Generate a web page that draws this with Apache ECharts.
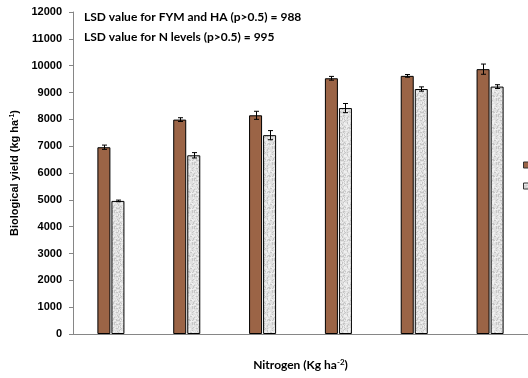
<!DOCTYPE html>
<html><head><meta charset="utf-8">
<script src="https://cdn.jsdelivr.net/npm/echarts@6/dist/echarts.min.js"></script>
<style>html,body{margin:0;padding:0;background:#fff}#c{width:528px;height:378px}</style>
</head><body><div id="c"></div>
<script>
const categories = ['0', '60', '90', '120', '150', '180'];
const fymValues = [6960, 7990, 8150, 9530, 9620, 9870];
const fymErrors = [80, 70, 150, 70, 50, 190];
const haValues = [4960, 6660, 7410, 8420, 9130, 9220];
const haErrors = [30, 100, 170, 170, 80, 70];
const yTicks = [0, 12000, 1000];
const seriesNames = ['FYM', 'HA'];

// speckled grey texture (deterministic)
const pc = document.createElement('canvas');
pc.width = 16; pc.height = 16;
const pctx = pc.getContext('2d');
pctx.fillStyle = '#e0e0e0'; pctx.fillRect(0,0,16,16);
let s = 7;
for (let i = 0; i < 16; i++) for (let j = 0; j < 16; j++) {
  s = (s * 1103515245 + 12345) & 0x7fffffff;
  const v = s % 100;
  if (v < 20) { pctx.fillStyle = '#c6c6c6'; pctx.fillRect(i,j,1,1); }
  else if (v < 45) { pctx.fillStyle = '#efefef'; pctx.fillRect(i,j,1,1); }
}

const BW = 13, GAP = 1;
function errRender(vals, errs, sign) {
  return function (params, api) {
    const i = api.value(0);
    const v = vals[i], e = errs[i];
    const top = api.coord([i, v + e]);
    const bot = api.coord([i, v - e]);
    const x = Math.round(top[0] + sign * (BW / 2 + GAP / 2)) + 0.5;
    const st = { stroke: '#000', lineWidth: 1 };
    return { type: 'group', children: [
      { type: 'line', shape: { x1: x, y1: top[1], x2: x, y2: bot[1] }, style: st },
      { type: 'line', shape: { x1: x - 2.5, y1: top[1], x2: x + 2.5, y2: top[1] }, style: st },
      { type: 'line', shape: { x1: x - 2.5, y1: bot[1], x2: x + 2.5, y2: bot[1] }, style: st }
    ]};
  };
}

const chart = echarts.init(document.getElementById('c'));
chart.setOption({
  animation: false,
  backgroundColor: '#fff',
  grid: { left: 73, top: 12, bottom: 44, width: 458 },
  legend: {
    orient: 'vertical', left: 518, top: 155, itemWidth: 6, itemHeight: 6, itemGap: 11,
    data: seriesNames, textStyle: { fontSize: 10, color: '#000' }, icon: 'rect',
    itemStyle: { borderColor: '#333', borderWidth: 1 }
  },
  graphic: [
    { type: 'text', left: 84, top: 11, style: { text: 'LSD value for FYM and HA (p>0.5) = 988', font: 'bold 12px Lato', fill: '#000' } },
    { type: 'text', left: 84, top: 31, style: { text: 'LSD value for N levels (p>0.5) = 995', font: 'bold 12px Lato', fill: '#000' } }
  ],
  xAxis: {
    type: 'category', data: categories,
    axisLine: { lineStyle: { color: '#868686', width: 1 } },
    axisTick: { alignWithLabel: true, length: 4, lineStyle: { color: '#868686' } },
    axisLabel: { show: false },
    name: '{b|Nitrogen (Kg ha}{sup|-2}{b|)}', nameLocation: 'middle', nameGap: 24,
    nameTextStyle: { rich: {
      b: { fontFamily: 'Lato', fontWeight: 'bold', fontSize: 12, color: '#000' },
      sup: { fontFamily: 'Lato', fontWeight: 'bold', fontSize: 8, color: '#000', verticalAlign: 'top', padding: [0,0,6,0] }
    } }
  },
  yAxis: {
    type: 'value', min: yTicks[0], max: yTicks[1], interval: yTicks[2],
    axisLine: { show: true, lineStyle: { color: '#868686', width: 1 } },
    axisTick: { show: true, length: 4, lineStyle: { color: '#868686' } },
    splitLine: { show: false },
    axisLabel: { fontFamily: 'Liberation Sans', fontWeight: 'bold', fontSize: 11, color: '#000', margin: 11,
      formatter: v => String(v) },
    name: '{b|Biological yield (kg ha}{sup|-1}{b|)}', nameLocation: 'middle', nameGap: 50, nameRotate: 90,
    nameTextStyle: { rich: {
      b: { fontFamily: 'Liberation Sans', fontWeight: 'bold', fontSize: 11, color: '#000' },
      sup: { fontFamily: 'Liberation Sans', fontWeight: 'bold', fontSize: 7, color: '#000', verticalAlign: 'top', padding: [0,0,5,0] }
    } }
  },
  series: [
    { name: seriesNames[0], type: 'bar', data: fymValues, barWidth: BW, barGap: '8%',
      itemStyle: { color: '#9b6446', borderColor: '#000', borderWidth: 1 } },
    { name: seriesNames[1], type: 'bar', data: haValues, barWidth: BW, barGap: '8%',
      itemStyle: { color: { image: pc, repeat: 'repeat' }, borderColor: '#000', borderWidth: 1 } },
    { type: 'custom', data: fymValues.map((v, i) => [i, v]), renderItem: errRender(fymValues, fymErrors, -1), z: 10, silent: true },
    { type: 'custom', data: haValues.map((v, i) => [i, v]), renderItem: errRender(haValues, haErrors, 1), z: 10, silent: true }
  ]
});
</script></body></html>
